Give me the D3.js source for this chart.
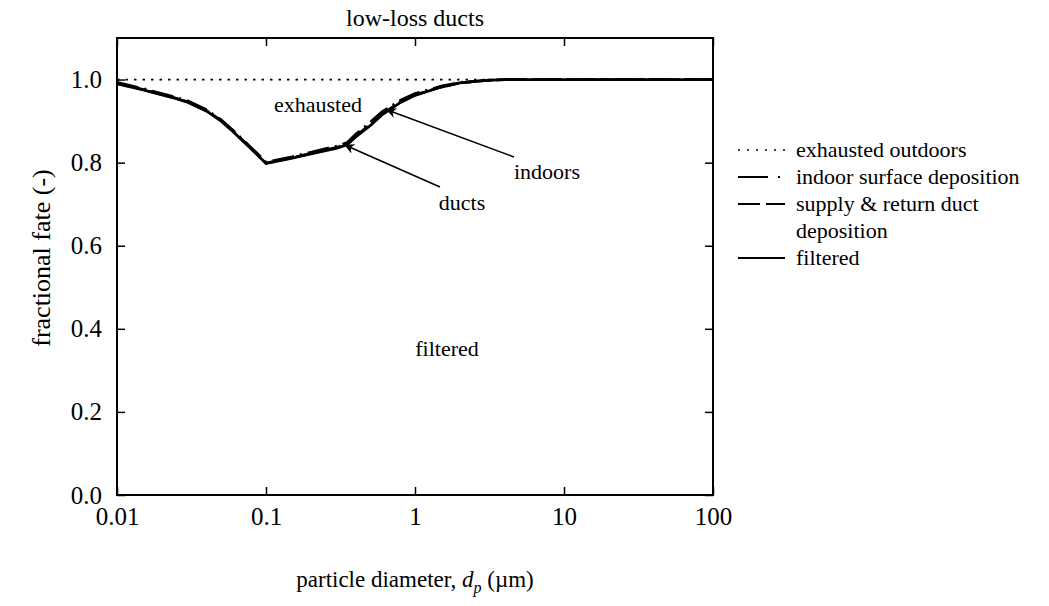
<!DOCTYPE html>
<html>
<head>
<meta charset="utf-8">
<script src="https://cdn.jsdelivr.net/npm/d3@7"></script>
<style>
  html, body { margin: 0; padding: 0; background: #fff; }
  svg { display: block; }
  text { font-family: "Liberation Serif", "Times New Roman", serif; fill: #000; }
</style>
</head>
<body>
<svg id="chart" width="1049" height="606"></svg>
<script>
// ---- data ----
const diameters = [0.01, 0.015, 0.02, 0.025, 0.03, 0.04, 0.05, 0.06, 0.07, 0.085, 0.1, 0.15, 0.2, 0.3, 0.35, 0.4, 0.5, 0.6, 0.8, 1, 1.5, 2, 3, 4, 5, 7, 10, 20, 50, 100];
// cumulative fractions (stacked boundaries)
const exhaustedTop = [1, 1, 1, 1, 1, 1, 1, 1, 1, 1, 1, 1, 1, 1, 1, 1, 1, 1, 1, 1, 1, 1, 1, 1, 1, 1, 1, 1, 1, 1];
const indoorTop    = [0.993, 0.978, 0.966, 0.957, 0.948, 0.927, 0.903, 0.878, 0.855, 0.826, 0.801, 0.814, 0.825, 0.840, 0.848, 0.868, 0.897, 0.922, 0.950, 0.966, 0.984, 0.993, 0.998, 1, 1, 1, 1, 1, 1, 1];
const ductTop      = [0.991, 0.976, 0.964, 0.955, 0.946, 0.925, 0.901, 0.876, 0.853, 0.824, 0.799, 0.812, 0.822, 0.837, 0.845, 0.864, 0.892, 0.917, 0.946, 0.963, 0.982, 0.992, 0.998, 1, 1, 1, 1, 1, 1, 1];
const filteredTop  = [0.990, 0.975, 0.963, 0.954, 0.945, 0.924, 0.900, 0.875, 0.852, 0.823, 0.798, 0.811, 0.821, 0.835, 0.843, 0.862, 0.889, 0.915, 0.945, 0.962, 0.982, 0.992, 0.998, 1, 1, 1, 1, 1, 1, 1];
const xTicks = [0.01, 0.1, 1, 10, 100];
const xTickLabels = ["0.01", "0.1", "1", "10", "100"];
const yTicks = [0, 0.2, 0.4, 0.6, 0.8, 1.0];
const legendLabels = [["exhausted outdoors"], ["indoor surface deposition"], ["supply & return duct", "deposition"], ["filtered"]];

// ---- layout ----
const svg = d3.select("#chart");
const L = 117, R = 713, T = 38, B = 495;
const x = d3.scaleLog().domain([0.01, 100]).range([L, R]);
const y = d3.scaleLinear().domain([0, 1.1]).range([B, T]);

// series
const series = [
  { vals: exhaustedTop, dash: "2.5,6", width: 1.8 },
  { vals: indoorTop, dash: "22,6,2,6", width: 2.8 },
  { vals: ductTop, dash: "12,5", width: 2.8 },
  { vals: filteredTop, dash: null, width: 2.8 }
];
const line = d3.line().x(d => x(d[0])).y(d => y(d[1])).curve(d3.curveLinear);
svg.append("clipPath").attr("id", "clip").append("rect")
  .attr("x", L).attr("y", T - 2).attr("width", R - L).attr("height", B - T + 2);
const g = svg.append("g").attr("clip-path", "url(#clip)");
series.slice().reverse().forEach(s => {
  g.append("path")
    .attr("d", line(diameters.map((d, i) => [d, s.vals[i]])))
    .attr("fill", "none").attr("stroke", "#000")
    .attr("stroke-width", s.width)
    .attr("stroke-dasharray", s.dash)
    .attr("stroke-linejoin", "miter");
});

// axes
const fmtX = d => xTickLabels[xTicks.indexOf(d)];
const axBottom = svg.append("g").attr("transform", `translate(0,${B})`)
  .call(d3.axisBottom(x).tickValues(xTicks).tickFormat(fmtX).tickSizeInner(-8).tickSizeOuter(0).tickPadding(12));
const axTop = svg.append("g").attr("transform", `translate(0,${T})`)
  .call(d3.axisTop(x).tickValues(xTicks).tickFormat("").tickSizeInner(-8).tickSizeOuter(0));
const axLeft = svg.append("g").attr("transform", `translate(${L},0)`)
  .call(d3.axisLeft(y).tickValues(yTicks).tickFormat(d3.format(".1f")).tickSizeInner(-8).tickSizeOuter(0).tickPadding(15));
const axRight = svg.append("g").attr("transform", `translate(${R},0)`)
  .call(d3.axisRight(y).tickValues(yTicks).tickFormat("").tickSizeInner(-8).tickSizeOuter(0));
[axBottom, axTop, axLeft, axRight].forEach(a => {
  a.select(".domain").remove();
  a.selectAll("line").attr("stroke", "#000").attr("stroke-width", 1.5);
  a.selectAll("text").attr("font-family", "Liberation Serif").attr("font-size", 25).attr("fill", "#000");
});
svg.append("rect").attr("x", L).attr("y", T).attr("width", R - L).attr("height", B - T)
  .attr("fill", "none").attr("stroke", "#000").attr("stroke-width", 2);

// title and axis labels
svg.append("text").attr("x", (L + R) / 2).attr("y", 26).attr("text-anchor", "middle")
  .attr("font-size", 24).text("low-loss ducts");
svg.append("text").attr("transform", `translate(50,258) rotate(-90)`)
  .attr("text-anchor", "middle").attr("font-size", 26).text("fractional fate (-)");
const xl = svg.append("text").attr("x", 415).attr("y", 587).attr("text-anchor", "middle").attr("font-size", 23);
xl.append("tspan").text("particle diameter, ");
xl.append("tspan").attr("font-style", "italic").text("d");
xl.append("tspan").attr("font-style", "italic").attr("font-size", 16).attr("dy", 6).text("p");
xl.append("tspan").attr("dy", -6).text(" (\u00b5m)");

// region annotations
const ann = [["exhausted", 318, 112], ["filtered", 447, 356], ["indoors", 547, 179], ["ducts", 462, 210]];
ann.forEach(a => svg.append("text").attr("x", a[1]).attr("y", a[2]).attr("text-anchor", "middle")
  .attr("font-size", 22).text(a[0]));

// arrows
const defs = svg.append("defs");
defs.append("marker").attr("id", "arr").attr("viewBox", "0 0 10 10").attr("refX", 10).attr("refY", 5)
  .attr("markerWidth", 16).attr("markerHeight", 10).attr("markerUnits", "userSpaceOnUse").attr("orient", "auto")
  .append("path").attr("d", "M0,0 L10,5 L0,10 L3,5 Z").attr("fill", "#000");
const arrows = [[0.61, 0.928, 514, 157], [0.32, 0.843, 440, 187]];
arrows.forEach(a => svg.append("line")
  .attr("x1", a[2]).attr("y1", a[3]).attr("x2", x(a[0]) + 3).attr("y2", y(a[1]))
  .attr("stroke", "#000").attr("stroke-width", 1.6).attr("marker-end", "url(#arr)"));

// legend
const lgX = 738, lgY = [155, 182, 209, 263];
const lgDash = ["2,7", "30,10,2,20", "22,6,20,20", null];
const lgLineY = [150, 177, 204, 258];
legendLabels.forEach((labs, i) => {
  svg.append("line").attr("x1", lgX).attr("x2", lgX + 47).attr("y1", lgLineY[i]).attr("y2", lgLineY[i])
    .attr("stroke", "#000").attr("stroke-width", i === 0 ? 1.6 : 2).attr("stroke-dasharray", lgDash[i]);
  labs.forEach((t, j) => svg.append("text").attr("x", 796).attr("y", lgY[i] + j * 27 + 2)
    .attr("font-size", 22).text(t));
});
</script>
</body>
</html>
